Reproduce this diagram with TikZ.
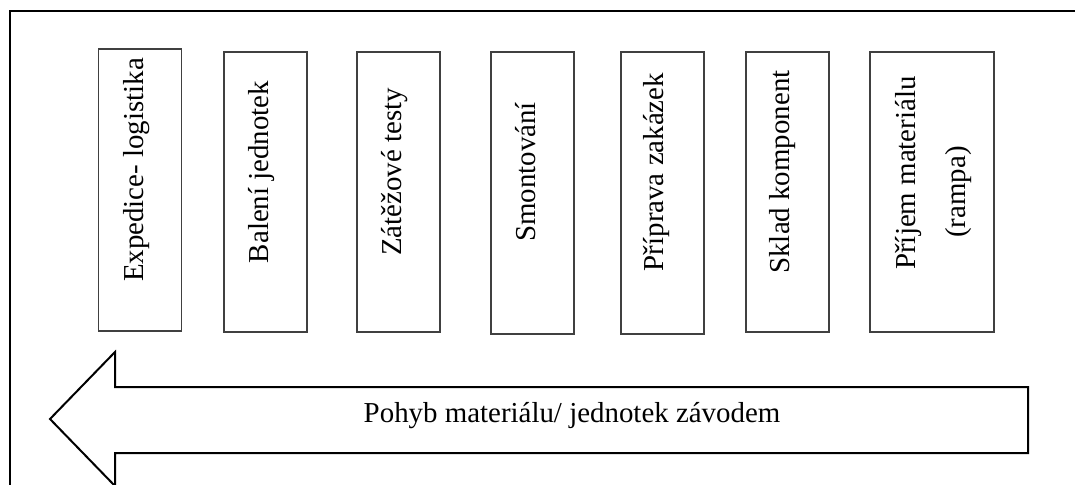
\documentclass[tikz,border=0pt]{standalone}
\usepackage{fontspec}
\setmainfont{Liberation Serif}

\begin{document}
\begin{tikzpicture}[x=0.5pt, y=0.5pt,
    every node/.style = {font=\fontsize{14.45}{17}\selectfont},
    stanoviste/.style = {draw=black!75, line width=0.6pt, inner sep=0pt,
      minimum width=41.5pt, minimum height=140pt},
    popisek/.style = {rotate=90, anchor=base, inner sep=0pt}]
    \clip (0,0) rectangle (1075,484);
    \draw[line width=1pt] (10,473) rectangle (1090,-10);
    \node[stanoviste, minimum height=141pt] (expedice) at (140,294) {};
    \node[stanoviste] (baleni) at (265.5,292) {};
    \node[stanoviste] (testy) at (398.5,292) {};
    \node[stanoviste, minimum height=141pt] (montaz) at (532.5,291) {};
    \node[stanoviste, minimum height=141pt] (priprava) at (662.5,291) {};
    \node[stanoviste] (sklad) at (787.5,292) {};
    \node[stanoviste, minimum width=62pt] (prijem) at (932,292) {};
    \node[popisek] (t-expedice) at (143,314) {Expedice- logistika};
    \node[popisek] (t-baleni) at (268,312) {Balení jednotek};
    \node[popisek] (t-testy) at (401,312) {Zátěžové testy};
    \node[popisek] (t-montaz) at (535,312) {Smontování};
    \node[popisek] (t-priprava) at (663,312) {Příprava zakázek};
    \node[popisek] (t-sklad) at (789,312) {Sklad komponent};
    \node[popisek] (t-prijem) at (915,311) {Příjem materiálu};
    \node[popisek] (t-rampa) at (965,292) {(rampa)};
    \draw[line width=1pt] (50,65) -- (115,132) -- (115,97) -- (1028,97)
      -- (1028,31) -- (115,31) -- (115,-2) -- cycle;
    \node[anchor=base, inner sep=0pt] (pohyb) at (572,62) {Pohyb materiálu/ jednotek závodem};
\end{tikzpicture}
\end{document}
